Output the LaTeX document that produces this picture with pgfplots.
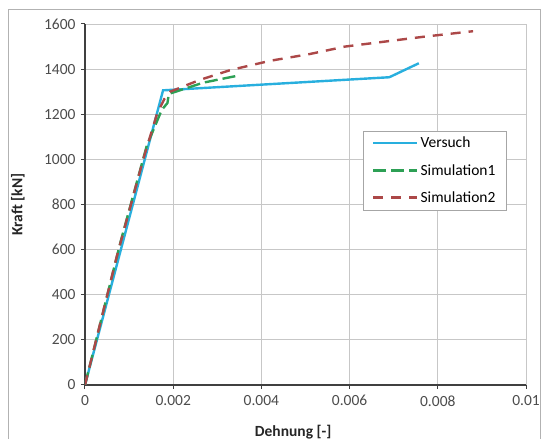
\documentclass[border=0pt]{standalone}
\usepackage{pgfplots}
\pgfplotsset{compat=1.18}
\usepackage{fontspec}
\setmainfont{Carlito}
\definecolor{cblue}{RGB}{40,175,222}
\definecolor{cgreen}{RGB}{45,160,85}
\definecolor{cred}{RGB}{172,72,72}
\begin{document}
\begin{tikzpicture}[x=1pt,y=1pt]
\useasboundingbox (0,0) rectangle (547,439);
\draw[gray!60, line width=1pt] (8,-5) -- (8,429) -- (540,429) -- (540,-5);
\begin{axis}[at={(85pt,54pt)}, anchor=south west, scale only axis,
  width=441pt, height=361pt,
  xmin=0, xmax=0.01, ymin=0, ymax=1600,
  xtick={0,0.002,0.004,0.006,0.008,0.01},
  ytick={0,200,400,600,800,1000,1200,1400,1600},
  scaled x ticks=false,
  xticklabel style={/pgf/number format/fixed, /pgf/number format/precision=3, yshift=-3pt},
  yticklabel style={/pgf/number format/1000 sep={}, xshift=-2pt},
  /pgf/number format/assume math mode=true,
  ticklabel style={font=\fontsize{15.5}{17}\selectfont, text=black!70},
  grid=major, major grid style={black!22, line width=0.9pt},
  axis x line*=bottom, axis y line*=left,
  axis line style={black!75, line width=1.6pt, -},
  tick style={black!75, line width=1pt}, tick align=outside, major tick length=4pt,
  xlabel={Dehnung [-]}, ylabel={Kraft [kN]},
  label style={font=\fontsize{15.5}{17}\selectfont\bfseries, text=black!85},
  xlabel style={at={(axis description cs:0.472,-0.130)}, anchor=center},
  ylabel style={at={(axis description cs:-0.152,0.5)}, anchor=center},
  legend style={at={(axis description cs:0.630,0.704)}, anchor=north west,
    draw=black!35, font=\fontsize{15.5}{17}\selectfont,
    row sep=11pt, inner xsep=9pt, inner ysep=4pt, cells={anchor=west}},
  legend image code/.code={\draw[#1, line width=2.6pt] plot coordinates {(0pt,0pt) (44pt,0pt)};},
  legend cell align=left,
]
\addplot[cblue, line width=2.4pt] coordinates {
(0,0) (0.00177,1306) (0.0069,1364) (0.00757,1426)};
\addlegendentry{Versuch}
\addplot[cgreen, line width=2.4pt, dash pattern=on 13pt off 5pt] coordinates {
(0,0) (0.0008,630) (0.0014,1060) (0.00174,1219) (0.00187,1250) (0.0019,1290)
(0.00215,1306) (0.00268,1340) (0.00344,1370)};
\addlegendentry{Simulation1}
\addplot[cred, line width=2.4pt, dash pattern=on 10pt off 8pt] coordinates {
(0,0) (0.00072,569) (0.00132,1000) (0.00163,1200) (0.0018,1268) (0.00193,1300)
(0.0026,1352) (0.0033,1396) (0.0042,1437) (0.0051,1467) (0.0059,1500)
(0.0068,1522) (0.0077,1544) (0.0088,1568)};
\addlegendentry{Simulation2}
\end{axis}
\end{tikzpicture}
\end{document}
